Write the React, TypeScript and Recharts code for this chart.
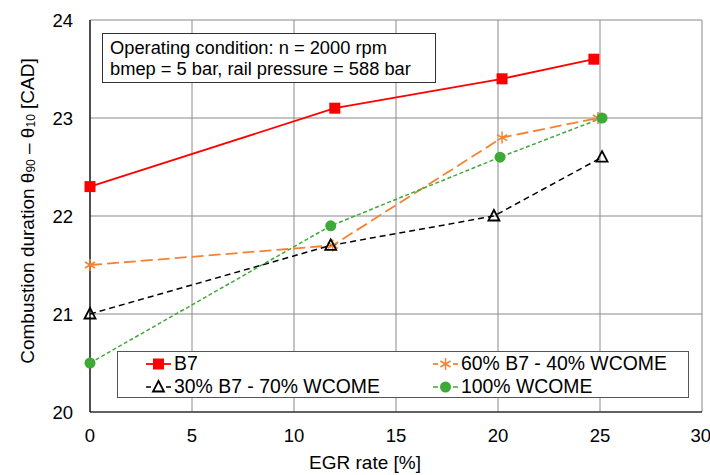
import React from 'react';
import { LineChart, Line, XAxis, YAxis, CartesianGrid, Legend } from 'recharts';

const xB7 = [0, 12.0, 20.2, 24.7];
const yB7 = [22.3, 23.1, 23.4, 23.6];
const x60 = [0, 11.9, 20.2, 24.9];
const y60 = [21.5, 21.7, 22.8, 23.0];
const x30 = [0, 11.8, 19.8, 25.1];
const y30 = [21.0, 21.7, 22.0, 22.6];
const x100 = [0, 11.8, 20.1, 25.1];
const y100 = [20.5, 21.9, 22.6, 23.0];

const xTicks = [0, 5, 10, 15, 20, 25, 30];
const yTicks = [20, 21, 22, 23, 24];

const toPts = (xs: number[], ys: number[]) => xs.map((x, i) => ({ x, y: ys[i] }));

const FONT = '"Liberation Sans", Arial, sans-serif';

type Kind = 'square' | 'star' | 'triangle' | 'circle';

const Marker = ({ cx, cy, kind, color }: { cx: number; cy: number; kind: Kind; color: string }) => {
  if (cx == null || cy == null) return null;
  if (kind === 'square') return <rect x={cx - 5.5} y={cy - 5.5} width={11} height={11} fill={color} />;
  if (kind === 'circle') return <circle cx={cx} cy={cy} r={5.5} fill={color} />;
  if (kind === 'triangle')
    return (
      <polygon
        points={`${cx},${cy - 6} ${cx + 5.5},${cy + 4.5} ${cx - 5.5},${cy + 4.5}`}
        fill="none"
        stroke={color}
        strokeWidth={1.8}
      />
    );
  const r = 6;
  return (
    <g stroke={color} strokeWidth={1.5}>
      <line x1={cx} y1={cy - r} x2={cx} y2={cy + r} />
      <line x1={cx - r * 0.85} y1={cy - r * 0.5} x2={cx + r * 0.85} y2={cy + r * 0.5} />
      <line x1={cx - r * 0.85} y1={cy + r * 0.5} x2={cx + r * 0.85} y2={cy - r * 0.5} />
    </g>
  );
};

const series = [
  { name: 'B7', data: toPts(xB7, yB7), color: '#FF0000', dash: undefined, width: 1.8, kind: 'square' as Kind },
  { name: '60% B7 - 40% WCOME', data: toPts(x60, y60), color: '#F58232', dash: '12 5', width: 1.8, kind: 'star' as Kind },
  { name: '30% B7 - 70% WCOME', data: toPts(x30, y30), color: '#000000', dash: '6 4', width: 1.5, kind: 'triangle' as Kind },
  { name: '100% WCOME', data: toPts(x100, y100), color: '#3DAA35', dash: '4 2.5', width: 1.5, kind: 'circle' as Kind },
];

const LegendIcon = ({ s }: { s: typeof series[number] }) => (
  <svg width={27} height={16} style={{ flex: 'none' }}>
    {s.dash ? (
      <g stroke={s.color} strokeWidth={s.width}>
        <line x1={1} y1={8} x2={6} y2={8} />
        <line x1={21} y1={8} x2={26} y2={8} />
      </g>
    ) : (
      <line x1={1} y1={8} x2={26} y2={8} stroke={s.color} strokeWidth={s.width} />
    )}
    <Marker cx={13.5} cy={8} kind={s.kind} color={s.color} />
  </svg>
);

const LegendContent = () => {
  const item = (s: typeof series[number]) => (
    <div key={s.name} style={{ display: 'flex', alignItems: 'center', height: 23, whiteSpace: 'nowrap' }}>
      <LegendIcon s={s} />
      <span style={{ marginLeft: 2 }}>{s.name}</span>
    </div>
  );
  return (
    <div
      style={{
        position: 'absolute',
        left: 0,
        top: 0,
        border: '1px solid #555',
        background: '#fff',
        width: 572,
        height: 47,
        boxSizing: 'border-box',
        display: 'grid',
        gridTemplateColumns: '287px 260px',
        paddingLeft: 27,
        paddingTop: 0,
        fontFamily: FONT,
        fontSize: 19.4,
        color: '#000',
        lineHeight: '23px',
      }}
    >
      {item(series[0])}
      {item(series[1])}
      {item(series[2])}
      {item(series[3])}
    </div>
  );
};

const YLabel = () => {
  const cx = 27;
  const cy = 211;
  return (
    <text
      transform={`translate(${cx},${cy}) rotate(-90)`}
      textAnchor="middle"
      fontFamily={FONT}
      fontSize={19}
      fill="#000"
      dominantBaseline="central"
    >
      Combustion duration θ
      <tspan fontSize={12} dy={4}>90</tspan>
      <tspan dy={-4}> – θ</tspan>
      <tspan fontSize={12} dy={4}>10</tspan>
      <tspan dy={-4}> [CAD]</tspan>
    </text>
  );
};

export default function App() {
  return (
    <div style={{ position: 'absolute', left: 0, top: 0, width: 710, height: 475, background: '#fff' }}>
      <LineChart width={710} height={475} margin={{ top: 20, right: 8, left: 0, bottom: 0 }}>
        <CartesianGrid xAxisId="b" yAxisId="l" stroke="#8a8a8a" strokeWidth={1} />
        <XAxis
          xAxisId="b"
          dataKey="x"
          type="number"
          domain={[0, 30]}
          ticks={xTicks}
          height={63}
          tickLine={false}
          tickSize={0}
          tickMargin={17}
          axisLine={{ stroke: '#000', strokeWidth: 1.2 }}
          tick={{ fill: '#000', fontSize: 18.5, fontFamily: FONT }}
          label={{ value: 'EGR rate [%]', position: 'insideBottom', offset: 6, dx: -31, fill: '#000', fontSize: 19, fontFamily: FONT }}
        />
        <XAxis xAxisId="t" orientation="top" type="number" domain={[0, 30]} height={0} tick={false} tickLine={false} axisLine={{ stroke: '#000', strokeWidth: 1.2 }} />
        <YAxis
          yAxisId="l"
          type="number"
          domain={[20, 24]}
          ticks={yTicks}
          width={90}
          tickLine={false}
          tickSize={0}
          tickMargin={17}
          axisLine={{ stroke: '#000', strokeWidth: 1.2 }}
          tick={{ fill: '#000', fontSize: 18.5, fontFamily: FONT }}
          label={<YLabel />}
        />
        <YAxis yAxisId="r" orientation="right" type="number" domain={[20, 24]} width={0} tick={false} tickLine={false} axisLine={{ stroke: '#000', strokeWidth: 1.2 }} />
        <Legend
          content={<LegendContent />}
          wrapperStyle={{ position: 'absolute', left: 117, top: 351, width: 0, height: 0, bottom: 'auto', overflow: 'visible' }}
        />
        {series.map((s) => (
          <Line
            key={s.name}
            xAxisId="b"
            yAxisId="l"
            data={s.data}
            dataKey="y"
            name={s.name}
            stroke={s.color}
            strokeWidth={s.width}
            strokeDasharray={s.dash}
            dot={(p: any) => <Marker key={`${s.name}-${p.index}`} cx={p.cx} cy={p.cy} kind={s.kind} color={s.color} />}
            activeDot={false}
            isAnimationActive={false}
          />
        ))}
      </LineChart>
      <div
        style={{
          position: 'absolute',
          left: 102,
          top: 33,
          width: 334,
          height: 50,
          boxSizing: 'border-box',
          border: '1px solid #333',
          background: '#fff',
          fontFamily: FONT,
          fontSize: 18.3,
          lineHeight: '20.5px',
          padding: '4px 0 0 7px',
          color: '#000',
          whiteSpace: 'nowrap',
        }}
      >
        Operating condition: n = 2000 rpm
        <br />
        bmep = 5 bar, rail pressure = 588 bar
      </div>
    </div>
  );
}
